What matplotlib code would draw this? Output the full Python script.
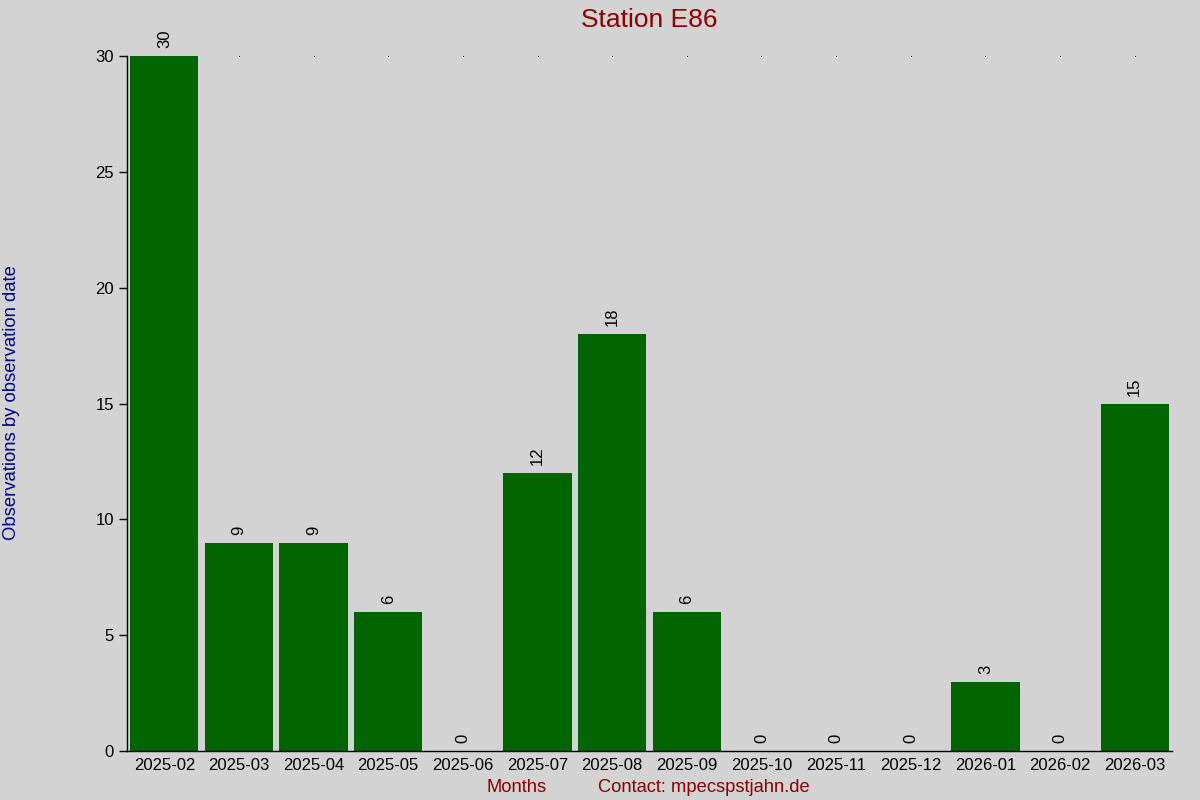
import matplotlib
matplotlib.use("Agg")
import matplotlib.pyplot as plt
import numpy as np

months = ["2025-02", "2025-03", "2025-04", "2025-05", "2025-06", "2025-07", "2025-08",
          "2025-09", "2025-10", "2025-11", "2025-12", "2026-01", "2026-02", "2026-03"]
counts = [30, 9, 9, 6, 0, 12, 18, 6, 0, 0, 0, 3, 0, 15]
yticks = [0, 5, 10, 15, 20, 25, 30]

plt.rcParams['font.family'] = ['Liberation Sans', 'DejaVu Sans']
BG = '#d3d3d3'
fig = plt.figure(figsize=(12, 8), dpi=100, facecolor=BG)
ax = fig.add_axes([127/1200, 1-751/800, (1172-127)/1200, (751-56)/800])
ax.set_facecolor(BG)

x = np.arange(len(months))
ax.bar(x, counts, width=0.915, color='#006400', zorder=2)
ymax = max(yticks)
ax.plot(x, [ymax]*len(x), ls='none', marker='s', ms=0.6, mew=0, color='black', zorder=1)
for xi, c in zip(x, counts):
    ax.annotate(str(c), (xi, c), xytext=(0, 5.5), textcoords='offset points',
                rotation=90, ha='center', va='bottom', fontsize=12, color='black')

ax.set_xlim(-0.5, len(months)-0.5)
ax.set_ylim(0, ymax)
ax.set_xticks(x)
ax.set_xticklabels(months, fontsize=12)
ax.set_yticks(yticks)
ax.set_yticklabels([str(v) for v in yticks], fontsize=12)
ax.tick_params(axis='x', length=0, pad=5)
ax.tick_params(axis='y', length=6, width=1, pad=3.5)
for s in ['top', 'right']:
    ax.spines[s].set_visible(False)
for s in ['left', 'bottom']:
    ax.spines[s].set_linewidth(1)
    ax.spines[s].set_color('black')

fig.text(649.5/1200, 1-27/800, "Station E86", ha='center', va='baseline',
         fontsize=19, color='#8b0000')
fig.text(12/1200, 1-403/800, "Observations by observation date", rotation=90,
         ha='center', va='center', fontsize=13.3, color='#00008b')
fig.text(517/1200, 1-792/800, "Months", ha='center', va='baseline',
         fontsize=13.2, color='#8b0000')
fig.text(704/1200, 1-792/800, "Contact: mpecspstjahn.de", ha='center', va='baseline',
         fontsize=13.2, color='#8b0000')

fig.savefig("out.png", dpi=100, facecolor=BG)
